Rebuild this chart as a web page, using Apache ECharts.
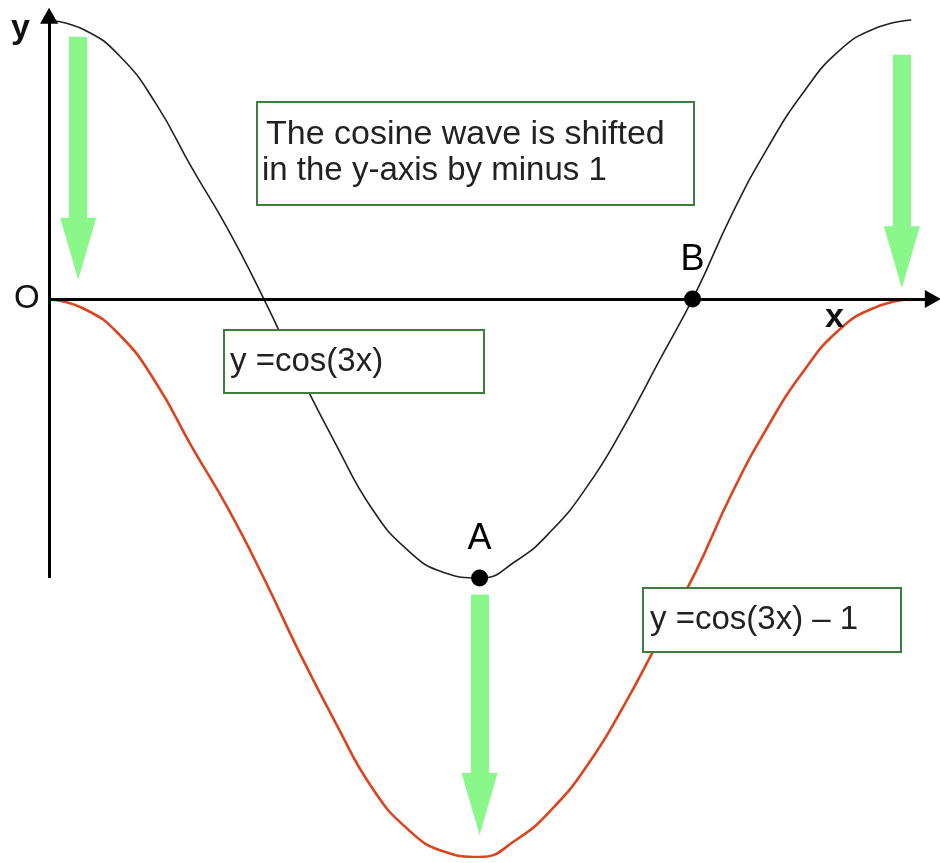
<!DOCTYPE html>
<html>
<head>
<meta charset="utf-8">
<script src="https://cdn.jsdelivr.net/npm/echarts@6.0.0/dist/echarts.min.js"></script>
<style>
  html, body { margin: 0; padding: 0; background: #fff; }
  #chart { width: 940px; height: 863px; }
</style>
</head>
<body>
<div id="chart"></div>
<script>
// x in degrees (one period of cos(3x) = 120)
const xDeg = [0, 5, 10, 15, 20, 25, 30, 35, 40, 45, 50, 55, 60,
  65, 70, 75, 80, 85, 90, 95, 100, 105, 110, 115, 120];
const cosY = [1, 0.965, 0.87, 0.7, 0.47, 0.25, 0, -0.27, -0.52, -0.75, -0.9, -0.98, -1,
  -0.94, -0.83, -0.67, -0.46, -0.22, 0.02, 0.3, 0.54, 0.74, 0.89, 0.97, 1];
const shiftY = [0, -0.035, -0.13, -0.3, -0.53, -0.75, -1, -1.27, -1.52, -1.75, -1.9, -1.98, -2,
  -1.94, -1.83, -1.67, -1.46, -1.22, -0.98, -0.7, -0.46, -0.26, -0.11, -0.03, 0];

// marked points A (minimum) and B (zero crossing)
const pointNames = ['A', 'B'];
const pointX = [60, 89.6];
const pointY = [-1, 0];

// green "shift down" arrows: x, start y, end y
const arrowX = [4.2, 60, 118.7];
const arrowFrom = [0.94, -1.06, 0.875];
const arrowTo = [0.18, -1.81, 0.15];

const chart = echarts.init(document.getElementById('chart'));

const toPairs = (xs, ys) => xs.map((x, i) => [x, ys[i]]);

const option = {
  animation: false,
  grid: { left: 48, right: 0, top: 11.6, bottom: 6 },
  xAxis: {
    type: 'value', min: 0, max: 124,
    axisLine: { show: false }, axisTick: { show: false },
    axisLabel: { show: false }, splitLine: { show: false }
  },
  yAxis: {
    type: 'value', min: -2, max: 1.03,
    axisLine: { show: false }, axisTick: { show: false },
    axisLabel: { show: false }, splitLine: { show: false }
  },
  series: [
    {
      // green arrows
      type: 'line', data: [], silent: true, z: 1, clip: false,
      markLine: {
        silent: true,
        symbol: ['none', 'triangle'],
        symbolSize: [36, 62],
        label: { show: false },
        emphasis: { disabled: true },
        lineStyle: { color: '#8af78a', width: 18, type: 'solid', opacity: 1 },
        data: arrowX.map((x, i) => [{ coord: [x, arrowFrom[i]] }, { coord: [x, arrowTo[i]] }])
      }
    },
    {
      // axes
      type: 'line', data: [], silent: true, z: 2, clip: false,
      markLine: {
        silent: true,
        symbol: ['none', 'triangle'],
        symbolSize: [18, 16],
        label: { show: false },
        emphasis: { disabled: true },
        lineStyle: { color: '#000', width: 3, type: 'solid', opacity: 1 },
        data: [
          [{ coord: [0, 0] }, { coord: [123, 0] }],
          [{ coord: [0.15, -1] }, { coord: [0.15, 1.015] }]
        ]
      }
    },
    {
      name: 'y = cos(3x)',
      type: 'line', smooth: true, showSymbol: false, z: 3,
      lineStyle: { color: '#222', width: 1.6 },
      data: toPairs(xDeg, cosY)
    },
    {
      name: 'y = cos(3x) - 1',
      type: 'line', smooth: true, showSymbol: false, z: 3,
      lineStyle: { color: '#dc4420', width: 2.6 },
      data: toPairs(xDeg, shiftY)
    },
    {
      type: 'scatter', z: 4,
      symbolSize: 17,
      itemStyle: { color: '#000', opacity: 1 },
      label: {
        show: true, position: 'top', distance: 12,
        formatter: p => pointNames[p.dataIndex],
        fontFamily: 'Liberation Sans', fontSize: 36, color: '#000'
      },
      data: toPairs(pointX, pointY)
    }
  ],
  graphic: [
    { type: 'text', left: 11, top: 12, z: 100, style: { text: 'y', font: 'bold 34px "Liberation Sans"', fill: '#111' } },
    { type: 'text', x: 14, y: 299, z: 100, style: { text: 'O', font: '33px "Liberation Sans"', fill: '#111', verticalAlign: 'middle' } },
    { type: 'text', x: 825, y: 318, z: 100, style: { text: 'x', font: 'bold 34px "Liberation Sans"', fill: '#111', verticalAlign: 'middle' } },

    { type: 'rect', z: 100, shape: { x: 257, y: 102, width: 437, height: 103 }, style: { fill: '#fff', stroke: '#3d7d3d', lineWidth: 2 } },
    { type: 'text', z: 101, x: 266, y: 135, style: { text: 'The cosine wave is shifted', font: '34px "Liberation Sans"', fill: '#222', verticalAlign: 'middle' } },
    { type: 'text', z: 101, x: 262, y: 171, style: { text: 'in the y-axis by minus 1', font: '33px "Liberation Sans"', fill: '#222', verticalAlign: 'middle' } },

    { type: 'rect', z: 100, shape: { x: 224, y: 330, width: 260, height: 63 }, style: { fill: '#fff', stroke: '#3d7d3d', lineWidth: 2 } },
    { type: 'text', z: 101, x: 230, y: 362, style: { text: 'y =cos(3x)', font: '33px "Liberation Sans"', fill: '#222', verticalAlign: 'middle' } },

    { type: 'rect', z: 100, shape: { x: 643, y: 588, width: 258, height: 64 }, style: { fill: '#fff', stroke: '#3d7d3d', lineWidth: 2 } },
    { type: 'text', z: 101, x: 650, y: 620, style: { text: 'y =cos(3x) \u2013 1', font: '33px "Liberation Sans"', fill: '#222', verticalAlign: 'middle' } }
  ]
};

chart.setOption(option);
window.addEventListener('resize', () => chart.resize());
</script>
</body>
</html>
